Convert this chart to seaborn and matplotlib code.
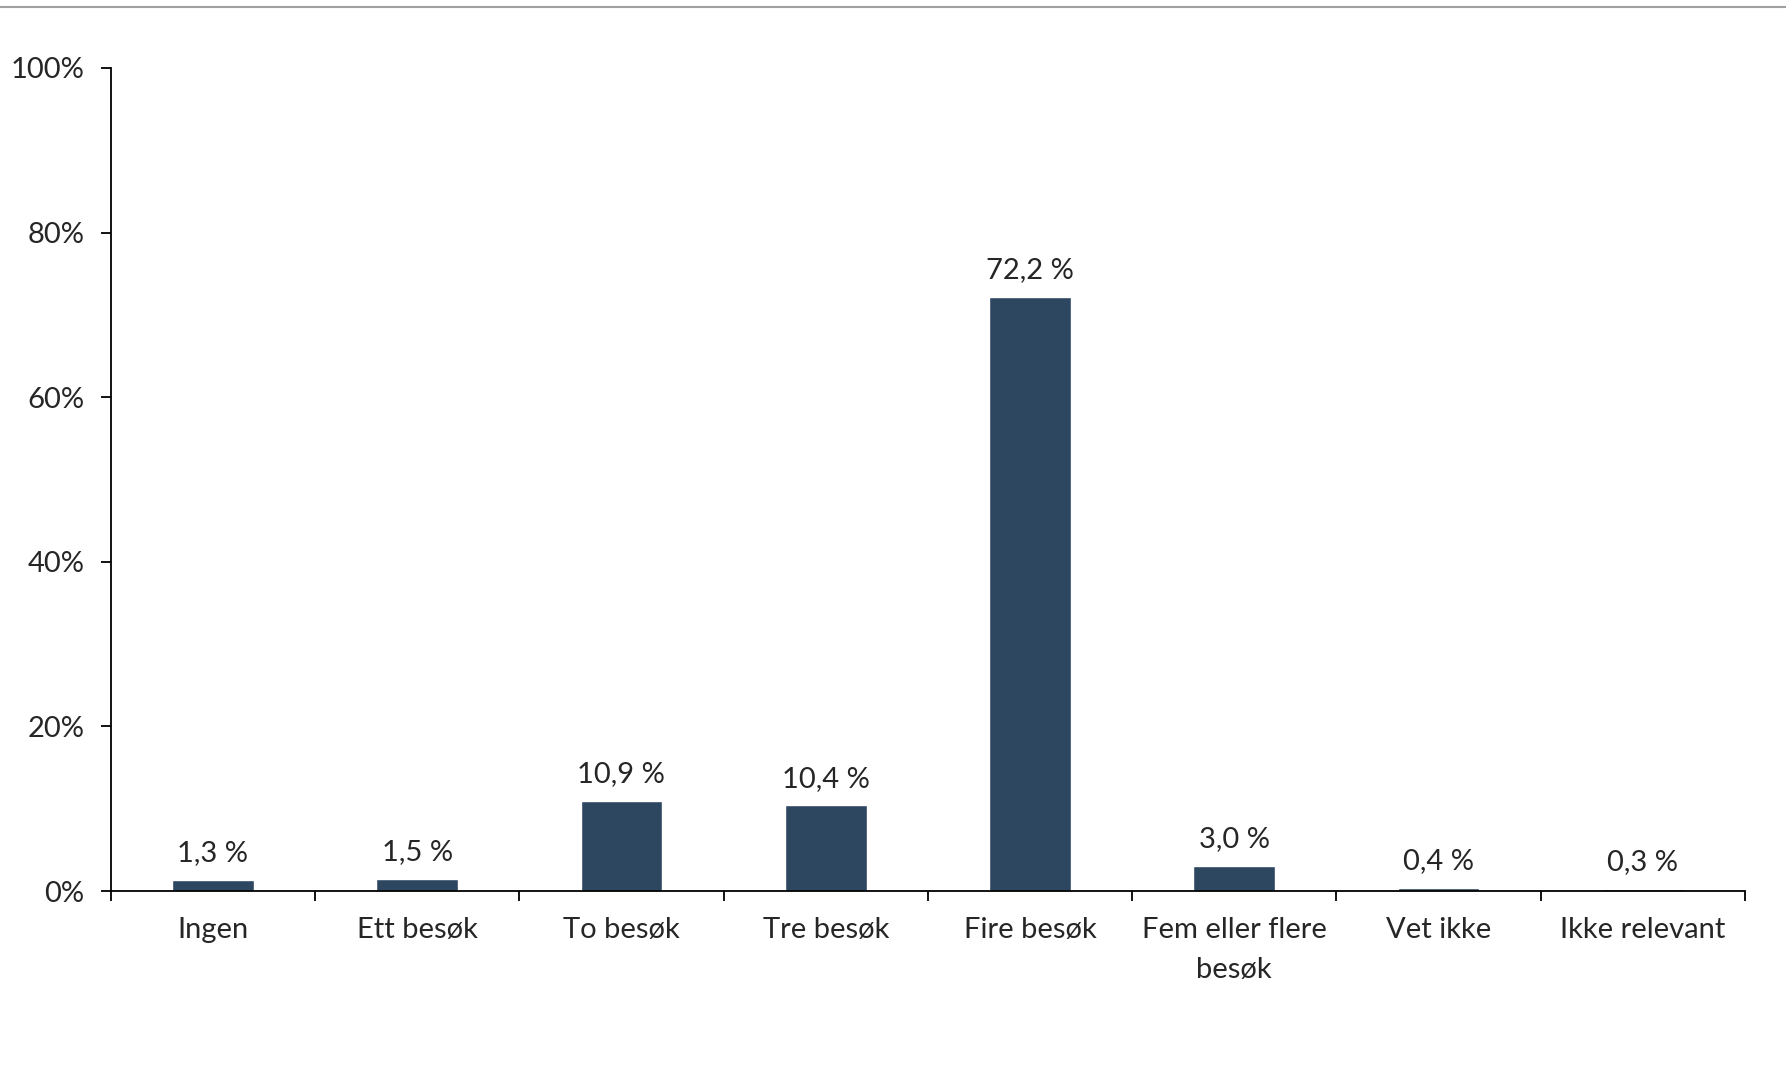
import matplotlib
matplotlib.use("Agg")
import matplotlib.pyplot as plt
import seaborn as sns
from matplotlib.lines import Line2D

categories = ["Ingen", "Ett besøk", "To besøk", "Tre besøk", "Fire besøk",
              "Fem eller flere\nbesøk", "Vet ikke", "Ikke relevant"]
values = [1.3, 1.5, 10.9, 10.4, 72.2, 3.0, 0.4, 0.3]
yticks = [0, 20, 40, 60, 80, 100]

sns.set_style("white")
plt.rcParams['font.family'] = ['Lato', 'DejaVu Sans']

fig, ax = plt.subplots(figsize=(17.86, 10.88), dpi=100)
fig.subplots_adjust(left=0.062, right=0.977, top=0.9375, bottom=0.181)

sns.barplot(x=categories, y=values, color="#2E4760", saturation=1, width=0.4, ax=ax)

# value labels above bars, Norwegian decimal comma
for i, v in enumerate(values):
    ax.annotate(f"{v:.1f} %".replace(".", ","), (i, v), xytext=(0, 10),
                textcoords="offset points", ha="center", va="bottom", fontsize=21)

ax.set_ylim(0, 100)
ax.set_xlim(-0.5, len(categories) - 0.5)
ax.set_yticks(yticks)
ax.set_yticklabels([f"{t}%" for t in yticks], fontsize=21)
# tick marks between categories, labels centered on bars
ax.set_xticks([i + 0.5 for i in range(-1, len(categories))], minor=False)
ax.set_xticklabels([])
ax.set_xticks(range(len(categories)), minor=True)
ax.set_xticklabels(categories, minor=True, fontsize=21, linespacing=1.65)
ax.tick_params(axis="x", which="major", bottom=True, direction="out", length=7, width=1.3, color="black")
ax.tick_params(axis="x", which="minor", bottom=True, length=0, pad=19)
ax.tick_params(axis="y", left=True, direction="out", length=7, width=1.3, color="black", pad=12)
ax.set_xlabel("")
ax.set_ylabel("")

for s in ["top", "right"]:
    ax.spines[s].set_visible(False)
for s in ["left", "bottom"]:
    ax.spines[s].set_color("black")
    ax.spines[s].set_linewidth(1.3)

fig.add_artist(Line2D([0, 1], [0.9936, 0.9936], transform=fig.transFigure,
                      color="#A0A0A0", linewidth=1.5))

fig.savefig("out.png", dpi=100)
